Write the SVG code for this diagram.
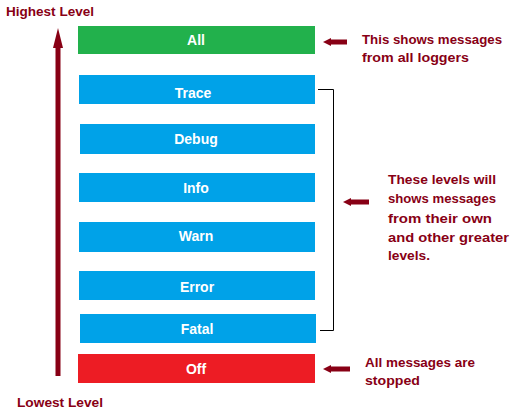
<svg xmlns="http://www.w3.org/2000/svg" width="517" height="415" viewBox="0 0 517 415">
<style>
.lbl{font-family:"Liberation Sans",Arial,sans-serif;font-weight:bold;font-size:14px;fill:#ffffff;text-anchor:middle}
.note{font-family:"Liberation Sans",Arial,sans-serif;font-weight:bold;font-size:13px;fill:#880015}
.g{fill:#22b14c}.b{fill:#00a2e8}.r{fill:#ed1c24}
.arr{fill:#880015}
</style>
<rect width="517" height="415" fill="#ffffff"/>
<g id="node-all"><rect class="g" x="78" y="26" width="237" height="28"/><text class="lbl" x="196" y="45">All</text></g>
<g id="node-trace"><rect class="b" x="79" y="75" width="236" height="29"/><text class="lbl" x="193" y="98">Trace</text></g>
<g id="node-debug"><rect class="b" x="80" y="124" width="235" height="30"/><text class="lbl" x="196" y="144">Debug</text></g>
<g id="node-info"><rect class="b" x="79" y="173" width="236" height="29"/><text class="lbl" x="196" y="193">Info</text></g>
<g id="node-warn"><rect class="b" x="79" y="222" width="236" height="30"/><text class="lbl" x="196" y="241">Warn</text></g>
<g id="node-error"><rect class="b" x="79" y="271" width="236" height="29"/><text class="lbl" x="197" y="292">Error</text></g>
<g id="node-fatal"><rect class="b" x="80" y="314" width="236" height="29"/><text class="lbl" x="197" y="334">Fatal</text></g>
<g id="node-off"><rect class="r" x="78" y="354" width="237" height="29"/><text class="lbl" x="196" y="374">Off</text></g>
<g id="connectors">
<rect class="arr" x="55.5" y="44" width="5" height="332"/>
<polygon class="arr" points="58,28 63,48 53,48"/>
<polyline points="318,89.5 333.5,89.5 333.5,330.5 320,330.5" fill="none" stroke="#000" stroke-width="1"/>
<polygon class="arr" points="323,42 331,38 331,39.5 347,39.5 347,44.5 331,44.5 331,46"/>
<polygon class="arr" points="343,202 351,198 351,199.5 369,199.5 369,204.5 351,204.5 351,206"/>
<polygon class="arr" points="323,369 331,365 331,366.5 350,366.5 350,371.5 331,371.5 331,373"/>
</g>
<text class="note" x="6" y="16" textLength="88" lengthAdjust="spacingAndGlyphs">Highest Level</text>
<text class="note" x="17" y="407" textLength="86" lengthAdjust="spacingAndGlyphs">Lowest Level</text>
<text class="note" x="362" y="44" textLength="140" lengthAdjust="spacingAndGlyphs">This shows messages</text>
<text class="note" x="362" y="62" textLength="107" lengthAdjust="spacingAndGlyphs">from all loggers</text>
<text class="note" x="388" y="184" textLength="108" lengthAdjust="spacingAndGlyphs">These levels will</text>
<text class="note" x="388" y="203" textLength="108" lengthAdjust="spacingAndGlyphs">shows messages</text>
<text class="note" x="388" y="223" textLength="104" lengthAdjust="spacingAndGlyphs">from their own</text>
<text class="note" x="388" y="242" textLength="121" lengthAdjust="spacingAndGlyphs">and other greater</text>
<text class="note" x="388" y="260" textLength="42" lengthAdjust="spacingAndGlyphs">levels.</text>
<text class="note" x="365" y="367" textLength="110" lengthAdjust="spacingAndGlyphs">All messages are</text>
<text class="note" x="365" y="385" textLength="55" lengthAdjust="spacingAndGlyphs">stopped</text>
</svg>
